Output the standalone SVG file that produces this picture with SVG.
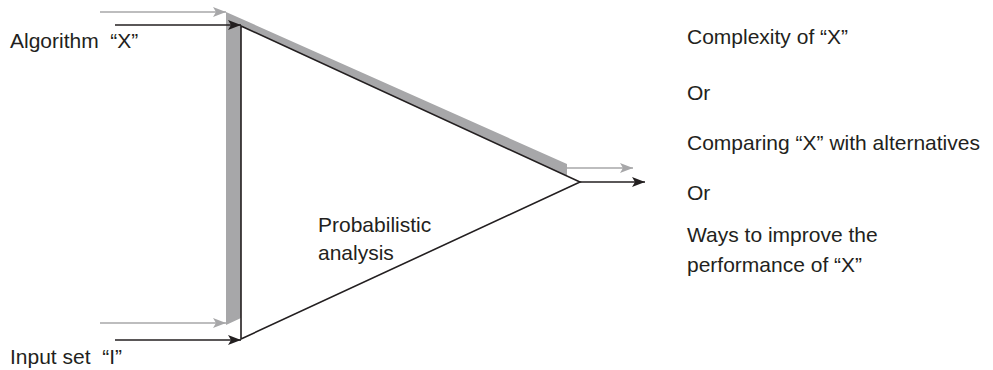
<svg xmlns="http://www.w3.org/2000/svg" width="993" height="370" viewBox="0 0 993 370">
<style>
text{font-family:"Liberation Sans",Arial,sans-serif;font-size:21px;fill:#231f20;white-space:pre}
.blk{stroke:#231f20;stroke-width:1.6;fill:none}
.gry{stroke:#a7a7a9;stroke-width:1.6;fill:none}
</style>
<defs>
<marker id="ab" markerUnits="userSpaceOnUse" markerWidth="14" markerHeight="12" refX="13" refY="6" orient="auto"><path d="M0,1 L13,6 L0,11 L3,6 Z" fill="#231f20"/></marker>
<marker id="ag" markerUnits="userSpaceOnUse" markerWidth="14" markerHeight="12" refX="13" refY="6" orient="auto"><path d="M0,1 L13,6 L0,11 L3,6 Z" fill="#a7a7a9"/></marker>
</defs>
<g id="analysis-block">
<polygon points="226,12 567,164 567,176 241,26 241,318 226,325" fill="#a7a7a9"/>
<polygon points="241,26 580,182 241,339" class="blk" stroke-linejoin="miter"/>
<text x="318" y="232">Probabilistic</text>
<text x="318" y="260">analysis</text>
</g>
<g id="connectors">
<line x1="100" y1="12" x2="226" y2="12" class="gry" marker-end="url(#ag)"/>
<line x1="115" y1="25" x2="241" y2="25" class="blk" marker-end="url(#ab)"/>
<line x1="100" y1="323" x2="226" y2="323" class="gry" marker-end="url(#ag)"/>
<line x1="115" y1="340" x2="241" y2="340" class="blk" marker-end="url(#ab)"/>
<line x1="567" y1="168" x2="633" y2="168" class="gry" marker-end="url(#ag)"/>
<line x1="580" y1="182" x2="645" y2="182" class="blk" marker-end="url(#ab)"/>
</g>
<g id="input-algorithm"><text x="10" y="48">Algorithm  “X”</text></g>
<g id="input-set"><text x="10" y="364">Input set  “I”</text></g>
<g id="outputs">
<text x="687" y="44">Complexity of “X”</text>
<text x="687" y="100">Or</text>
<text x="687" y="150">Comparing “X” with alternatives</text>
<text x="687" y="200">Or</text>
<text x="687" y="242">Ways to improve the</text>
<text x="687" y="272">performance of “X”</text>
</g>
</svg>
